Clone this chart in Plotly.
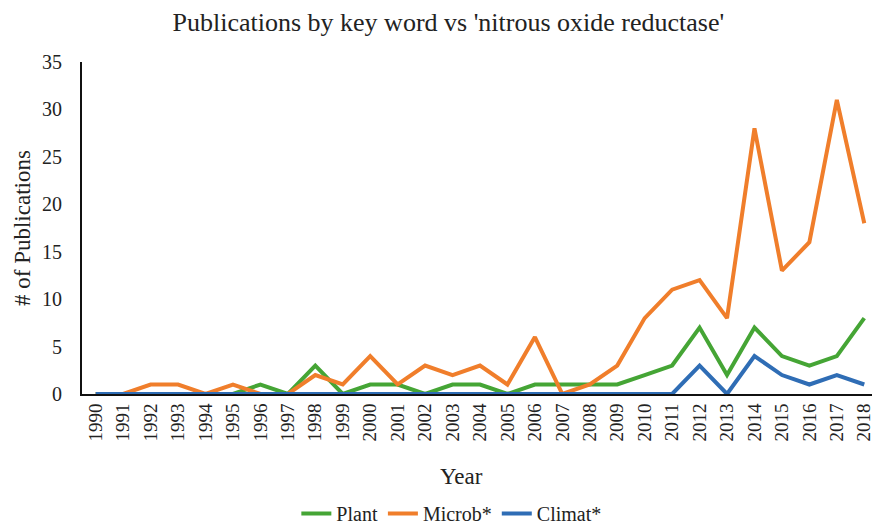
import plotly.graph_objects as go

# Publications per year
years = [str(y) for y in range(1990, 2019)]
plant = [0, 0, 0, 0, 0, 0, 1, 0, 3, 0, 1, 1, 0, 1, 1, 0, 1, 1, 1, 1, 2, 3, 7, 2, 7, 4, 3, 4, 8]
microb = [0, 0, 1, 1, 0, 1, 0, 0, 2, 1, 4, 1, 3, 2, 3, 1, 6, 0, 1, 3, 8, 11, 12, 8, 28, 13, 16, 31, 18]
climat = [0, 0, 0, 0, 0, 0, 0, 0, 0, 0, 0, 0, 0, 0, 0, 0, 0, 0, 0, 0, 0, 0, 3, 0, 4, 2, 1, 2, 1]

y_ticks = [0, 5, 10, 15, 20, 25, 30, 35]

font = "Liberation Serif"

fig = go.Figure()
for name, vals, color in [
    ("Plant", plant, "#45a535"),
    ("Microb*", microb, "#f07e2b"),
    ("Climat*", climat, "#2f6db5"),
]:
    fig.add_trace(go.Scatter(x=years, y=vals, name=name, mode="lines",
                             line=dict(color=color, width=4)))

# page body adds an 8px margin, so the figure is drawn 8px smaller
fig.update_layout(
    width=872, height=520,
    margin=dict(l=74, r=2, t=54, b=134, autoexpand=False),
    paper_bgcolor="white", plot_bgcolor="white",
    font=dict(family=font, size=19, color="#222"),
    title=dict(text="Publications by key word vs 'nitrous oxide reductase'",
               x=0.505, xanchor="center", y=0.973, yanchor="middle",
               font=dict(size=26, family=font, color="#222")),
    showlegend=True,
    legend=dict(orientation="h", x=0.464, xanchor="center",
                yref="container", y=0.028, yanchor="middle",
                font=dict(size=20, family=font, color="#222")),
    xaxis=dict(type="category", range=[-0.5, 28.5], showgrid=False,
               showline=True, linecolor="#111", linewidth=2,
               tickangle=-90, ticks="", tickfont=dict(size=19, family=font)),
    yaxis=dict(range=[0, 35], tickvals=y_ticks, showgrid=False, zeroline=False,
               showline=True, linecolor="#111", linewidth=2,
               ticks="", ticklabelstandoff=14, tickfont=dict(size=20, family=font)),
)

fig.add_annotation(text="Year", xref="paper", yref="paper", x=0.477, y=-0.247,
                   xanchor="center", yanchor="middle", showarrow=False,
                   font=dict(size=23, family=font))
fig.add_annotation(text="# of Publications", xref="paper", yref="paper", x=-0.0754, y=0.5,
                   xanchor="center", yanchor="middle", textangle=-90, showarrow=False,
                   font=dict(size=23, family=font))

fig.write_html("out.html")
